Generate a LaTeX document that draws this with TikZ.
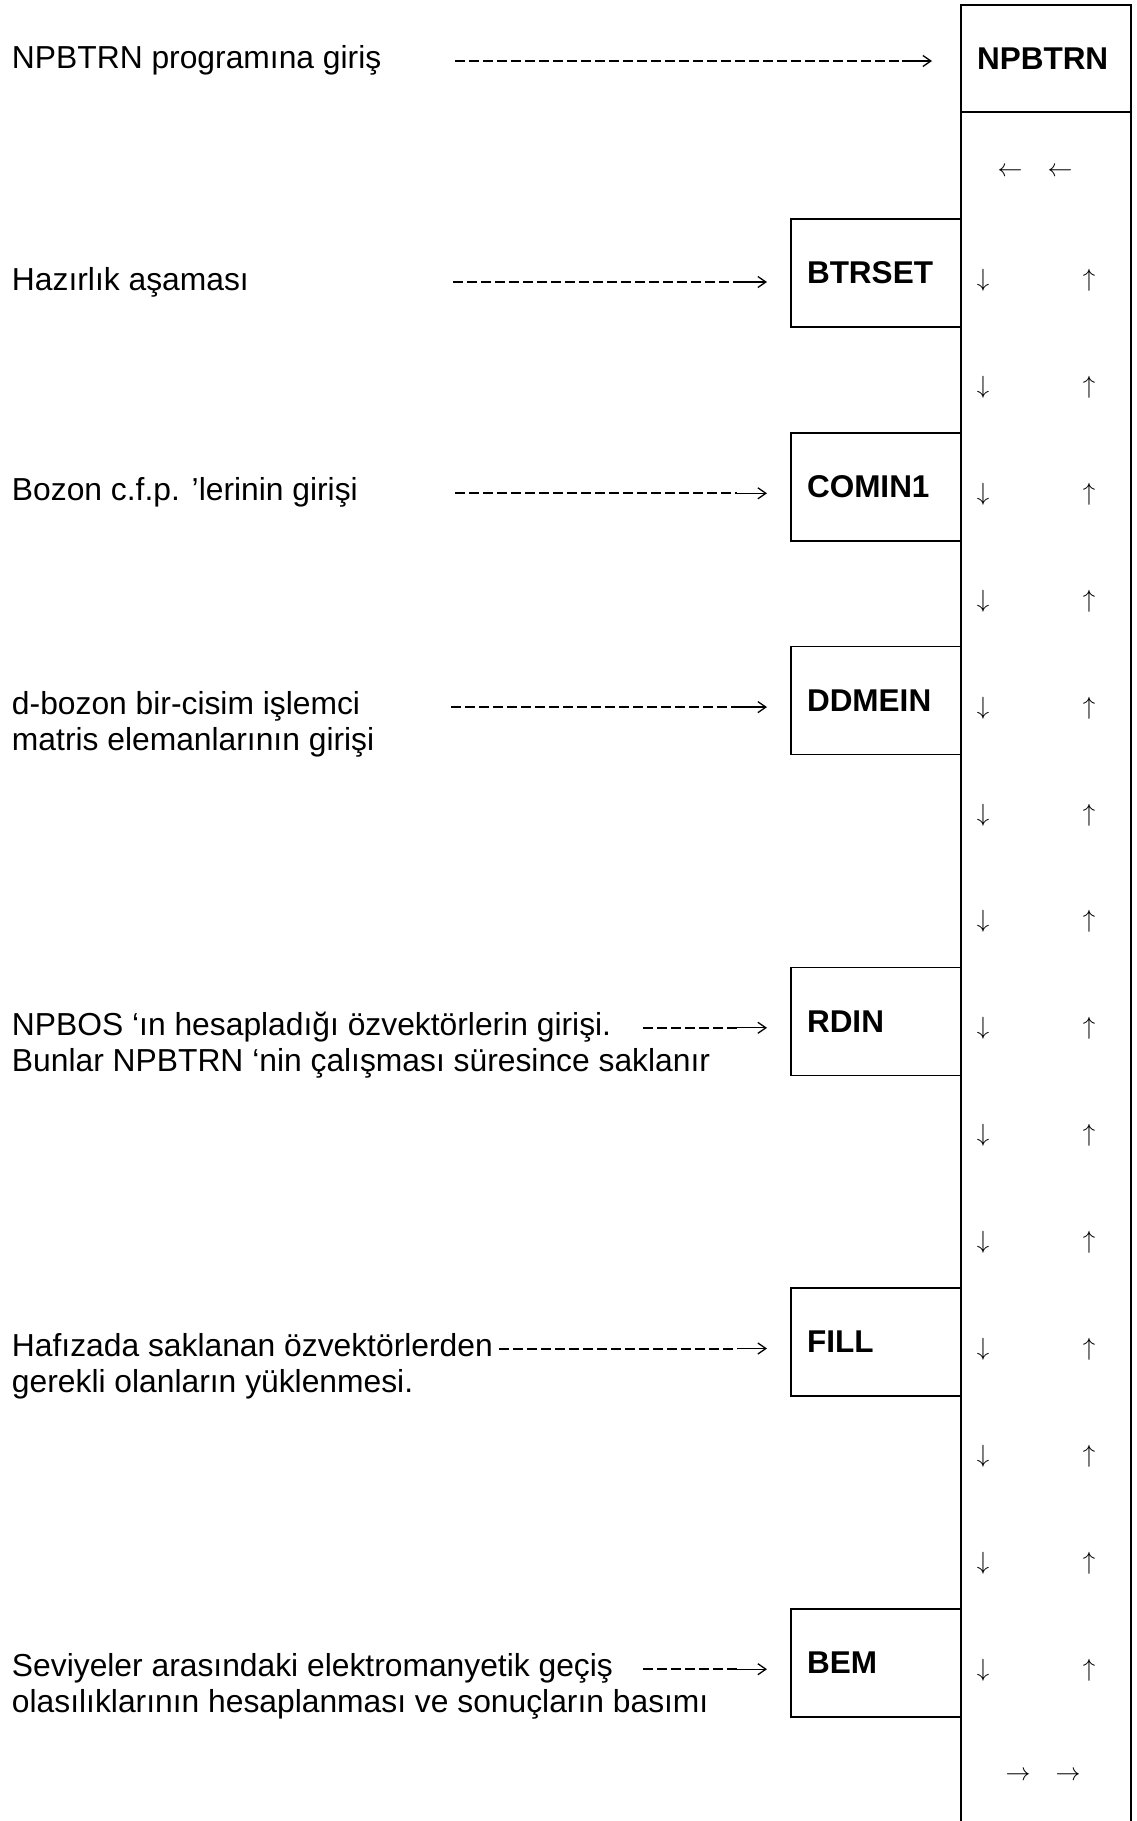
\documentclass[tikz,border=0pt]{standalone}
\usepackage{fontspec}
\setmainfont{Liberation Sans}
\usetikzlibrary{arrows.meta,calc}
\begin{document}
\begin{tikzpicture}[x=1pt,y=-1pt,
  every node/.style={inner sep=0pt, outer sep=0pt},
  desc/.style={anchor=base west, font=\fontsize{31.8}{36}\selectfont},
  prog/.style={draw, line width=1.6pt, minimum width=170pt, minimum height=108pt,
    text width=138pt, inner xsep=16pt, align=left,
    font=\fontsize{31.5}{36}\selectfont\bfseries, anchor=north west},
  glyph/.style={anchor=base, font=\fontsize{34}{38}\selectfont},
  dashpart/.style={line width=2pt, dash pattern=on 10pt off 4pt},
  tippart/.style={line width=1.3pt, -{Straight Barb[length=8pt,width=11pt,line width=1.3pt]}},
  colline/.style={line width=1.6pt},
]
\useasboundingbox (0,0) rectangle (1136,1821);

% main column
\node[prog, minimum height=107pt] (npbtrn) at (961,5) {NPBTRN};
\draw[colline] (npbtrn.south west) -- (961,1840);
\draw[colline] (npbtrn.south east) -- (1131,1840);

% sub-program boxes
\node[prog] (btrset) at (791,219) {BTRSET};
\node[prog] (comin) at (791,432.8) {COMIN1};
\node[prog] (ddmein) at (791,646.6) {DDMEIN};
\node[prog] (rdin) at (791,967.3) {RDIN};
\node[prog] (fill) at (791,1288) {FILL};
\node[prog] (bem) at (791,1608.7) {BEM};

% descriptions
\node[desc] (t0) at (12,68) {NPBTRN programına giriş};
\node[desc] (t1) at (12,290) {Hazırlık aşaması};
\node[desc] (t2) at (12,500.8) {Bozon c.f.p. ’lerinin girişi};
\node[desc] (t3a) at (12,714.6) {d-bozon bir-cisim işlemci};
\node[desc] (t3b) at (12,750.6) {matris elemanlarının girişi};
\node[desc] (t4a) at (12,1035.3) {NPBOS ‘ın hesapladığı özvektörlerin girişi.};
\node[desc] (t4b) at (12,1071.3) {Bunlar NPBTRN ‘nin çalışması süresince saklanır};
\node[desc] (t5a) at (12,1356) {Hafızada saklanan özvektörlerden};
\node[desc] (t5b) at (12,1392) {gerekli olanların yüklenmesi.};
\node[desc] (t6a) at (12,1676.7) {Seviyeler arasındaki elektromanyetik geçiş};
\node[desc] (t6b) at (12,1712.7) {olasılıklarının hesaplanması ve sonuçların basımı};

% dashed connectors
\coordinate (s0) at (455,61);
\draw[dashpart] (s0) -- ($(npbtrn.west |- s0)+(-59,0)$);
\draw[tippart, shorten >=29pt] ($(npbtrn.west |- s0)+(-59,0)$) -- (npbtrn.west |- s0);

\foreach \nm/\sx/\yy in {btrset/453/282, comin/455/493.3, ddmein/451/707.1,
    rdin/643/1027.8, fill/499/1348.5, bem/643/1669.2}{
  \coordinate (s-\nm) at (\sx,\yy);
  \draw[dashpart] (s-\nm) -- ($(\nm.west |- s-\nm)+(-54,0)$);
  \draw[tippart, shorten >=24pt] ($(\nm.west |- s-\nm)+(-54,0)$) -- (\nm.west |- s-\nm);
}

% arrows in the column
\node[glyph] (la1) at (1010,176.5) {$\leftarrow$};
\node[glyph] (la2) at (1060,176.5) {$\leftarrow$};
\foreach \k in {0,...,13}{
  \node[glyph] (dn\k) at (983,{278+106.9*\k+8.5}) {$\downarrow$};
  \node[glyph] (up\k) at (1089,{278+106.9*\k+8.5}) {$\uparrow$};
}
\node[glyph] (ra1) at (1018,1780.5) {$\rightarrow$};
\node[glyph] (ra2) at (1068,1780.5) {$\rightarrow$};
\end{tikzpicture}
\end{document}
